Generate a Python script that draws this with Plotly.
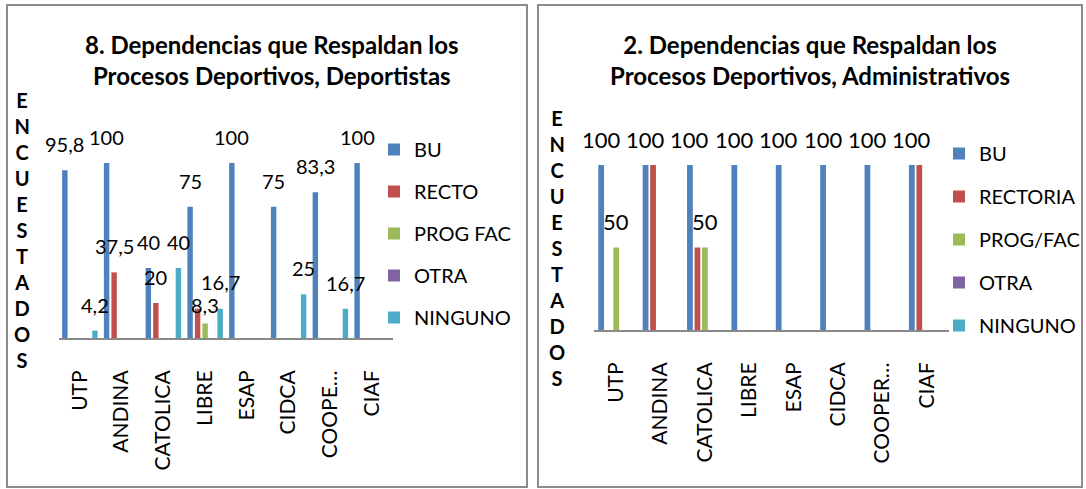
import plotly.graph_objects as go

W, H = 1086, 489

# ---- data ----
cats_left = ["UTP", "ANDINA", "CATOLICA", "LIBRE", "ESAP", "CIDCA", "COOPE…", "CIAF"]
cats_right = ["UTP", "ANDINA", "CATOLICA", "LIBRE", "ESAP", "CIDCA", "COOPER…", "CIAF"]

names_left = ["BU", "RECTO", "PROG FAC", "OTRA", "NINGUNO"]
bu_left = [95.8, 100, 40, 75, 100, 75, 83.3, 100]
recto_left = [0, 37.5, 20, 16.7, 0, 0, 0, 0]
prog_left = [0, 0, 0, 8.3, 0, 0, 0, 0]
otra_left = [0, 0, 0, 0, 0, 0, 0, 0]
ninguno_left = [4.2, 0, 40, 16.7, 0, 25, 16.7, 0]

names_right = ["BU", "RECTORIA", "PROG/FAC", "OTRA", "NINGUNO"]
bu_right = [100, 100, 100, 100, 100, 100, 100, 100]
rectoria_right = [0, 100, 50, 0, 0, 0, 0, 100]
prog_right = [50, 0, 50, 0, 0, 0, 0, 0]
otra_right = [0, 0, 0, 0, 0, 0, 0, 0]
ninguno_right = [0, 0, 0, 0, 0, 0, 0, 0]

colors = ["#4F81BD", "#C0504D", "#9BBB59", "#8064A2", "#4BACC6"]

# labels that are not drawn in the original (they sit under others)
hidden = {("left", "RECTO", "LIBRE"),
          ("right", "RECTORIA", "ANDINA"), ("right", "RECTORIA", "CATOLICA"),
          ("right", "RECTORIA", "CIAF")}
nudge = {("left", "PROG FAC", "LIBRE"): -8, ("left", "NINGUNO", "LIBRE"): 1}

FONT = "Lato, 'Liberation Sans', Arial, sans-serif"


def px(x):
    return x / W


def py(y):
    return 1 - y / H


fig = go.Figure()
annotations = []


def add_chart(side, cats, names, series, xa, ya, legend, slot, bw, lab_size):
    idx = list(range(len(cats)))
    for i, (name, vals) in enumerate(zip(names, series)):
        off = (i - 2) * slot
        fig.add_bar(x=idx, y=vals, name=name, marker_color=colors[i],
                    offset=off - bw / 2, width=bw, xaxis=xa, yaxis=ya,
                    legend=legend, legendgroup=side + name,
                    marker_line_width=0)
        for k, v in enumerate(vals):
            if not v or (side, name, cats[k]) in hidden:
                continue
            annotations.append(dict(
                x=k + off, y=v, xref=xa, yref=ya, xanchor="center", yanchor="middle",
                text=f"{v:g}".replace(".", ","), showarrow=False,
                yshift=26 + nudge.get((side, name, cats[k]), 0),
                font=dict(size=lab_size, color="black", family=FONT)))


add_chart("left", cats_left, names_left,
          [bu_left, recto_left, prog_left, otra_left, ninguno_left],
          "x", "y", "legend", 0.18, 0.13, 20)
add_chart("right", cats_right, names_right,
          [bu_right, rectoria_right, prog_right, otra_right, ninguno_right],
          "x2", "y2", "legend2", 0.169, 0.13, 22)

axis_x = dict(showgrid=False, zeroline=False, showline=True, linecolor="#8a8a8a",
              linewidth=2, tickangle=-90, ticks="", range=[-0.5, 7.5],
              tickfont=dict(size=21, color="black", family=FONT),
              tickmode="array", tickvals=list(range(8)), ticklabelstandoff=22)
axis_y = dict(visible=False, range=[0, 120], showgrid=False)

fig.update_layout(
    width=W, height=H, margin=dict(l=0, r=0, t=0, b=0),
    paper_bgcolor="white", plot_bgcolor="white",
    barmode="overlay", font=dict(family=FONT, color="black"),
    xaxis=dict(axis_x, domain=[px(59), px(393)], ticktext=cats_left, anchor="y"),
    yaxis=dict(axis_y, domain=[py(338), py(338 - 210)], anchor="x"),
    xaxis2=dict(axis_x, domain=[px(594), px(949)], ticktext=cats_right, anchor="y2"),
    yaxis2=dict(axis_y, domain=[py(330), py(330 - 198)], anchor="x2"),
    legend=dict(x=px(374), y=py(130), xanchor="left", yanchor="top",
                font=dict(size=20, family=FONT), tracegroupgap=13,
                bgcolor="rgba(0,0,0,0)"),
    legend2=dict(x=px(939), y=py(134), xanchor="left", yanchor="top",
                 font=dict(size=20, family=FONT), tracegroupgap=14,
                 bgcolor="rgba(0,0,0,0)"),
)

# titles
annotations.append(dict(x=px(272), y=py(60), xref="paper", yref="paper",
                        xanchor="center", yanchor="middle",
                        text="<b>8. Dependencias que Respaldan los<br>Procesos Deportivos, Deportistas</b>",
                        showarrow=False, font=dict(size=24, family=FONT)))
annotations.append(dict(x=px(810), y=py(60), xref="paper", yref="paper",
                        xanchor="center", yanchor="middle",
                        text="<b>2. Dependencias que Respaldan los<br>Procesos Deportivos, Administrativos</b>",
                        showarrow=False, font=dict(size=24, family=FONT)))

# vertical y-axis titles
letters = list("ENCUESTADOS")
annotations.append(dict(x=px(22), y=py(230), xref="paper", yref="paper",
                        xanchor="center", yanchor="middle",
                        text="<b>" + "<br>".join(letters) + "</b>",
                        showarrow=False, font=dict(size=20, family=FONT)))
annotations.append(dict(x=px(557), y=py(248), xref="paper", yref="paper",
                        xanchor="center", yanchor="middle",
                        text="<b>" + "<br>".join(letters) + "</b>",
                        showarrow=False, font=dict(size=20, family=FONT)))

fig.update_layout(annotations=annotations)

# panel frames
for x0, x1 in [(7, 527), (538, 1082)]:
    fig.add_shape(type="rect", xref="paper", yref="paper",
                  x0=px(x0), x1=px(x1), y0=py(487), y1=py(5),
                  line=dict(color="#8c8c8c", width=2))

fig.write_html("out.html", config={"displayModeBar": False},
               post_script="document.body.style.margin='0px';")
